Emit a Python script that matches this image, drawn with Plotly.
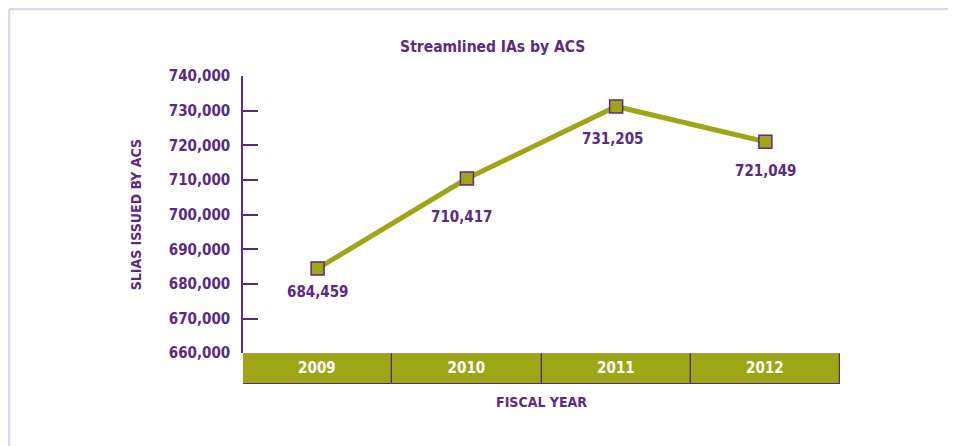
import plotly.graph_objects as go

years = ["2009", "2010", "2011", "2012"]
slias = [684459, 710417, 731205, 721049]
slia_labels = ["684,459", "710,417", "731,205", "721,049"]
y_ticks = [660000, 670000, 680000, 690000, 700000, 710000, 720000, 730000, 740000]
y_tick_labels = ["660,000", "670,000", "680,000", "690,000", "700,000", "710,000", "720,000", "730,000", "740,000"]
band_values = [1, 1, 1, 1]

PURPLE = "#5b2a86"
OLIVE = "#9ea616"
FONT = "DejaVu Sans Condensed, Liberation Sans Narrow, sans-serif"

# label placement style (pixel offsets of value labels from their markers)
label_dy = [-24, -38, -33, -29]
label_dx = [0, -5, -4, 0]

fig = go.Figure()

# category band (bars on secondary y-axis below plot)
fig.add_trace(go.Bar(
    x=years, y=band_values, yaxis="y2",
    width=1,
    marker=dict(color=OLIVE, line=dict(color=PURPLE, width=1.2)),
    text=years, textposition="inside", insidetextanchor="middle",
    textfont=dict(color="white", size=15, family=FONT, weight="bold"),
    hoverinfo="skip", showlegend=False,
))

fig.add_trace(go.Scatter(
    x=years, y=slias, mode="lines+markers",
    line=dict(color=OLIVE, width=5),
    marker=dict(symbol="square", size=13, color=OLIVE, line=dict(color=PURPLE, width=1.5)),
    showlegend=False,
))

annotations = [
    dict(x=i, y=v, text=lab, showarrow=False, xref="x", yref="y",
         yshift=dy, xshift=dx, font=dict(color=PURPLE, size=15, family=FONT, weight="bold"))
    for i, (v, lab, dy, dx) in enumerate(zip(slias, slia_labels, label_dy, label_dx))
]

fig.update_layout(
    width=956, height=446,
    margin=dict(l=235, r=124, t=68, b=70),
    paper_bgcolor="white", plot_bgcolor="white",
    title=dict(text="Streamlined IAs by ACS", x=0.507, xanchor="center", y=0.913, yanchor="middle",
               font=dict(color=PURPLE, size=15.5, family=FONT, weight="bold")),
    xaxis=dict(
        type="category", range=[-0.5, 3.5], showticklabels=False, ticks="",
        showgrid=False, showline=False, zeroline=False, anchor="y2",
        title=dict(text="FISCAL YEAR", font=dict(color=PURPLE, size=14, family=FONT, weight="bold"), standoff=13),
    ),
    yaxis=dict(
        domain=[0.1, 1], range=[660000, 740000],
        tickvals=y_ticks, ticktext=y_tick_labels,
        ticks="inside", ticklen=15, tickcolor=PURPLE, tickwidth=1.5,
        showline=True, linecolor=PURPLE, linewidth=1.5,
        showgrid=False, zeroline=False,
        tickfont=dict(color=PURPLE, size=15, family=FONT, weight="bold"), ticklabelstandoff=8,
        title=dict(text="SLIAS ISSUED BY ACS", font=dict(color=PURPLE, size=14, family=FONT, weight="bold"), standoff=24),
    ),
    yaxis2=dict(
        domain=[0, 0.1], range=[0, 1], showticklabels=False, ticks="",
        showgrid=False, zeroline=False, showline=False,
    ),
    bargap=0,
    annotations=annotations,
    shapes=[dict(type="line", xref="paper", yref="paper", x0=-0.392, x1=1.6, y0=1.2175, y1=1.2175,
                 line=dict(color="#dcd6ee", width=2.5)),
            dict(type="line", xref="paper", yref="paper", x0=-0.392, x1=-0.392, y0=1.2175, y1=-0.3,
                 line=dict(color="#dcd6ee", width=2.5))],
)

fig.write_html("out.html")
